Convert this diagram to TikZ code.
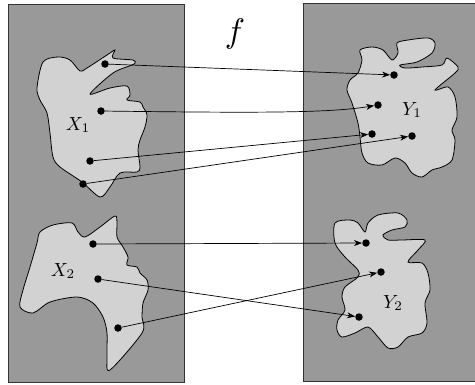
\documentclass[tikz,border=0pt]{standalone}
\usetikzlibrary{arrows.meta}
\definecolor{outerg}{RGB}{153,153,153}
\definecolor{blobg}{RGB}{210,210,210}
\begin{document}
\begin{tikzpicture}[x=1pt,y=-1pt,
  panel/.style={fill=outerg,draw=black!80,line width=0.8pt},
  blob/.style={fill=blobg,draw=black,line width=0.8pt},
  pt/.style={circle,fill=black,inner sep=0pt,minimum size=7.5pt},
  lab/.style={scale=1.9},
  map/.style={line width=0.7pt,-{Stealth[length=8pt,width=6pt,inset=2.5pt]}},
  smoothb/.style={smooth cycle,tension=0.5}]
\useasboundingbox (0,0) rectangle (475,384);
% panels
\draw[panel] (8,4) rectangle (184,382);
\draw[panel] (303,3) rectangle (478,381);
\node[scale=3.4] (f) at (235,34) {$f$};
% X1
\draw[blob] plot[smoothb] coordinates {
 (37,88) (43,62) (58,57) (70,60) (80,71) (87,68) (110,53) (115,50) (113,58)
 (133,60) (135,63) (132,65) (113,73) (90,94) (110,88) (127,86) (130,95)
 (127,100) (140,102) (143,107) (147,115) (145,127) (140,140) (138,150)
 (140,167) (137,172) (120,173) (110,187) (100,197) (82,182) (60,167)
 (53,157) (50,133) (47,113) (40,100)};
% Y1
\draw[blob] plot[smoothb] coordinates {
 (360,50) (372,47) (383,50) (392,60) (398,53) (397,43) (408,40) (428,38)
 (435,43) (432,53) (417,62) (400,65) (405,68) (422,67) (442,65) (447,58)
 (458,67) (455,73) (435,90) (448,87) (455,97) (457,117) (452,130) (455,140)
 (452,160) (442,167) (432,170) (422,177) (412,173) (405,163) (395,158)
 (382,165) (368,163) (362,153) (360,137) (358,123) (352,103) (347,90)
 (350,80) (358,73) (362,60)};
% X2
\draw[blob] plot[smoothb] coordinates {
 (40,232) (53,225) (72,223) (78,232) (85,237) (100,227) (115,216) (117,223)
 (117,237) (123,247) (128,257) (127,265) (137,267) (140,273) (147,280)
 (148,290) (143,303) (142,317) (142,333) (110,370) (107,357) (107,333)
 (103,317) (93,303) (77,297) (50,302) (33,313) (20,307) (23,290) (30,267)
 (37,243)};
% Y2
\draw[blob] plot[smoothb] coordinates {
 (335,223) (350,220) (358,223) (365,232) (368,223) (378,215) (398,213)
 (407,220) (405,227) (392,230) (383,235) (388,240) (402,240) (425,240)
 (418,250) (408,262) (422,263) (428,273) (430,290) (425,303) (427,323)
 (422,333) (408,337) (398,347) (388,348) (378,337) (368,327) (355,333)
 (342,337) (337,330) (338,320) (345,310) (342,297) (345,287) (358,277)
 (358,270) (345,257) (335,243)};
% labels
\node[lab] (lx1) at (78,125) {$X_1$};
\node[lab] (ly1) at (412,110) {$Y_1$};
\node[lab] (lx2) at (63,271) {$X_2$};
\node[lab] (ly2) at (393,303) {$Y_2$};
% points
\node[pt] (a1) at (105,64) {};
\node[pt] (a2) at (101,111) {};
\node[pt] (a3) at (90,161) {};
\node[pt] (a4) at (83,184) {};
\node[pt] (b1) at (394,75) {};
\node[pt] (b2) at (378,105) {};
\node[pt] (b3) at (372,134) {};
\node[pt] (b4) at (412,136) {};
\node[pt] (c1) at (93,244) {};
\node[pt] (c2) at (98,279) {};
\node[pt] (c3) at (118,328) {};
\node[pt] (d1) at (366,243) {};
\node[pt] (d2) at (381,272) {};
\node[pt] (d3) at (359,317) {};
% maps
\draw[map] (a1) -- (b1);
\draw[map] (a2) .. controls (260,113) and (330,113) .. (b2);
\draw[map] (a3) -- (b3);
\draw[map] (a4) -- (b4);
\draw[map] (c1) -- (d1);
\draw[map] (c2) -- (d3);
\draw[map] (c3) -- (d2);
\end{tikzpicture}
\end{document}
